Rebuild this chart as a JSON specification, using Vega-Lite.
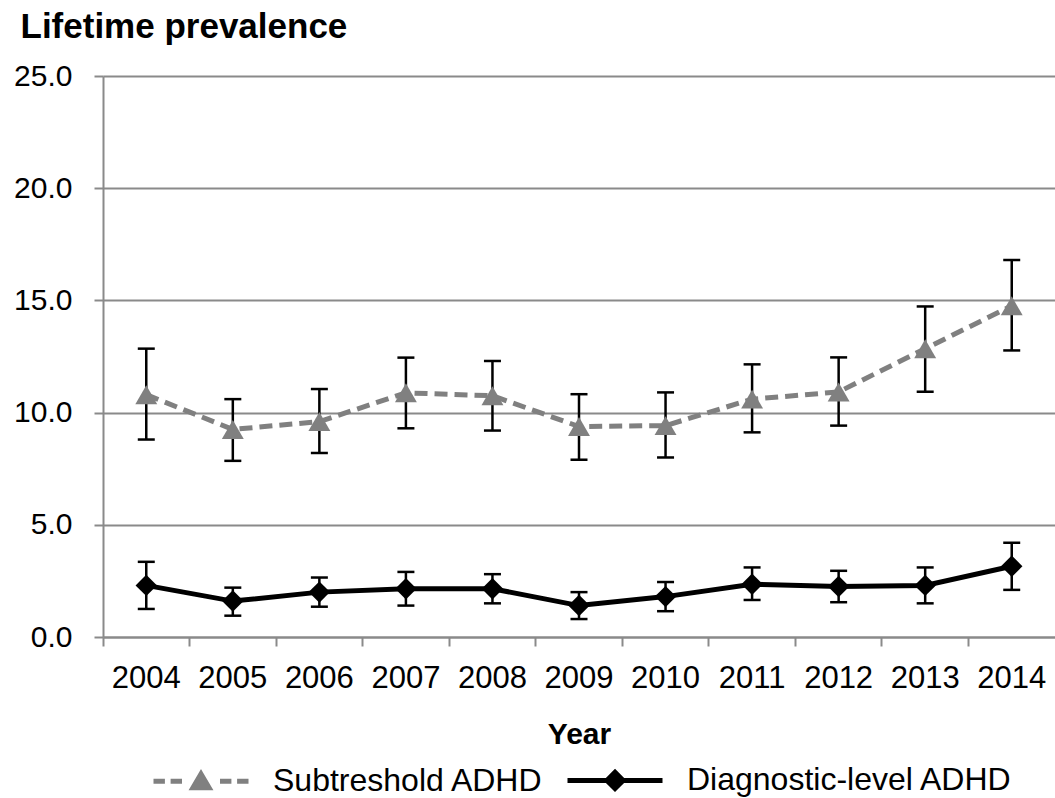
{
  "$schema": "https://vega.github.io/schema/vega-lite/v6.json",
  "autosize": {"type": "none"},
  "padding": {"left": 103, "top": 76, "right": 0, "bottom": 161},
  "width": 952,
  "height": 561,
  "background": "white",
  "config": {
    "font": "Liberation Sans",
    "view": {"stroke": null},
    "axis": {"labelColor": "#000000", "titleColor": "#000000", "labelFont": "Liberation Sans", "titleFont": "Liberation Sans"}
  },
  "data": {
    "values": [
      {"year": "2004", "series": "Subtreshold ADHD", "value": 10.8, "lo": 8.8, "hi": 12.85},
      {"year": "2005", "series": "Subtreshold ADHD", "value": 9.25, "lo": 7.85, "hi": 10.6},
      {"year": "2006", "series": "Subtreshold ADHD", "value": 9.6, "lo": 8.2, "hi": 11.05},
      {"year": "2007", "series": "Subtreshold ADHD", "value": 10.88, "lo": 9.3, "hi": 12.45},
      {"year": "2008", "series": "Subtreshold ADHD", "value": 10.75, "lo": 9.2, "hi": 12.3},
      {"year": "2009", "series": "Subtreshold ADHD", "value": 9.38, "lo": 7.9, "hi": 10.82},
      {"year": "2010", "series": "Subtreshold ADHD", "value": 9.42, "lo": 8.0, "hi": 10.9},
      {"year": "2011", "series": "Subtreshold ADHD", "value": 10.6, "lo": 9.12, "hi": 12.15},
      {"year": "2012", "series": "Subtreshold ADHD", "value": 10.92, "lo": 9.42, "hi": 12.46},
      {"year": "2013", "series": "Subtreshold ADHD", "value": 12.85, "lo": 10.93, "hi": 14.73},
      {"year": "2014", "series": "Subtreshold ADHD", "value": 14.76, "lo": 12.77, "hi": 16.8},
      {"year": "2004", "series": "Diagnostic-level ADHD", "value": 2.3, "lo": 1.25, "hi": 3.35},
      {"year": "2005", "series": "Diagnostic-level ADHD", "value": 1.6, "lo": 0.95, "hi": 2.2},
      {"year": "2006", "series": "Diagnostic-level ADHD", "value": 2.0, "lo": 1.35, "hi": 2.65},
      {"year": "2007", "series": "Diagnostic-level ADHD", "value": 2.15, "lo": 1.4, "hi": 2.9},
      {"year": "2008", "series": "Diagnostic-level ADHD", "value": 2.15, "lo": 1.5, "hi": 2.8},
      {"year": "2009", "series": "Diagnostic-level ADHD", "value": 1.4, "lo": 0.8, "hi": 2.0},
      {"year": "2010", "series": "Diagnostic-level ADHD", "value": 1.8, "lo": 1.15, "hi": 2.45},
      {"year": "2011", "series": "Diagnostic-level ADHD", "value": 2.35, "lo": 1.65, "hi": 3.1},
      {"year": "2012", "series": "Diagnostic-level ADHD", "value": 2.25, "lo": 1.55, "hi": 2.95},
      {"year": "2013", "series": "Diagnostic-level ADHD", "value": 2.3, "lo": 1.5, "hi": 3.1},
      {"year": "2014", "series": "Diagnostic-level ADHD", "value": 3.15, "lo": 2.1, "hi": 4.2}
    ]
  },
  "encoding": {
    "x": {
      "field": "year",
      "type": "ordinal",
      "scale": {"type": "band", "paddingInner": 0, "paddingOuter": 0},
      "axis": {
        "title": "Year",
        "titleFontSize": 30,
        "titleFontWeight": "bold",
        "titleBaseline": "alphabetic",
        "titleY": 106,
        "labelAngle": 0,
        "labelFontSize": 31,
        "labelPadding": 17,
        "tickSize": 9,
        "tickWidth": 2,
        "tickColor": "#8a8a8a",
        "domainColor": "#8a8a8a",
        "domainWidth": 2,
        "bandPosition": 0,
        "grid": false
      }
    }
  },
  "layer": [
    {
      "mark": {"type": "rule", "color": "#000000", "strokeWidth": 2.5},
      "encoding": {
        "y": {
          "field": "lo",
          "type": "quantitative",
          "scale": {"domain": [0, 25], "nice": false},
          "axis": {
            "values": [0, 5, 10, 15, 20, 25],
            "format": ".1f",
            "labelFontSize": 30,
            "labelPadding": 22,
            "tickSize": 9,
            "tickWidth": 2,
            "tickColor": "#8a8a8a",
            "domainColor": "#8a8a8a",
            "domainWidth": 2,
            "grid": true,
            "gridColor": "#8a8a8a",
            "gridWidth": 2,
            "gridOpacity": 1,
            "title": "Lifetime prevalence",
            "titleAngle": 0,
            "titleFontSize": 35,
            "titleFontWeight": "bold",
            "titleAlign": "left",
            "titleBaseline": "alphabetic",
            "titleX": -83,
            "titleY": -39
          }
        },
        "y2": {"field": "hi"}
      }
    },
    {
      "mark": {"type": "tick", "color": "#000000", "size": 17, "thickness": 2.5, "opacity": 1},
      "encoding": {"y": {"field": "lo", "type": "quantitative"}}
    },
    {
      "mark": {"type": "tick", "color": "#000000", "size": 17, "thickness": 2.5, "opacity": 1},
      "encoding": {"y": {"field": "hi", "type": "quantitative"}}
    },
    {
      "transform": [{"filter": "datum.series === 'Subtreshold ADHD'"}],
      "mark": {"type": "line", "color": "#808080", "strokeWidth": 5, "strokeDash": [13, 7]},
      "encoding": {"y": {"field": "value", "type": "quantitative"}}
    },
    {
      "transform": [{"filter": "datum.series === 'Diagnostic-level ADHD'"}],
      "mark": {"type": "line", "color": "#000000", "strokeWidth": 5},
      "encoding": {"y": {"field": "value", "type": "quantitative"}}
    },
    {
      "transform": [{"filter": "datum.series === 'Subtreshold ADHD'"}],
      "mark": {"type": "point", "filled": true, "opacity": 1, "size": 480, "shape": "triangle-up", "color": "#808080"},
      "encoding": {"y": {"field": "value", "type": "quantitative"}}
    },
    {
      "transform": [{"filter": "datum.series === 'Diagnostic-level ADHD'"}],
      "mark": {"type": "point", "filled": true, "opacity": 1, "size": 460, "shape": "diamond", "color": "#000000"},
      "encoding": {"y": {"field": "value", "type": "quantitative"}}
    },
    {
      "mark": {"type": "point", "filled": true, "opacity": 0, "size": 1},
      "encoding": {
        "y": {"field": "value", "type": "quantitative"},
        "shape": {
          "field": "series",
          "type": "nominal",
          "scale": {
            "domain": ["Subtreshold ADHD", "Diagnostic-level ADHD"],
            "range": [
              "M-5,0L-3.8,0M-3.2,0L-2,0M2,0L3.2,0M3.8,0L5,0M0,-0.75L0.85,0.7L-0.85,0.7Z",
              "M-5,0L5,0M0,-0.85L0.85,0L0,0.85L-0.85,0Z"
            ]
          },
          "legend": {
            "title": null,
            "orient": "none",
            "legendX": 82,
            "legendY": 688,
            "direction": "horizontal",
            "padding": 0,
            "labelFontSize": 32,
            "labelColor": "#000000",
            "labelLimit": 600,
            "labelOffset": 56,
            "columnPadding": 13,
            "symbolSize": 361,
            "symbolStrokeWidth": 5,
            "symbolOpacity": 1,
            "encoding": {
              "symbols": {
                "stroke": {"value": {"expr": "datum.value === 'Subtreshold ADHD' ? '#808080' : '#000000'"}},
                "fill": {"value": {"expr": "datum.value === 'Subtreshold ADHD' ? '#808080' : '#000000'"}},
                "strokeWidth": {"value": 5},
                "size": {"value": 361},
                "opacity": {"value": 1}
              }
            }
          }
        }
      }
    }
  ]
}
